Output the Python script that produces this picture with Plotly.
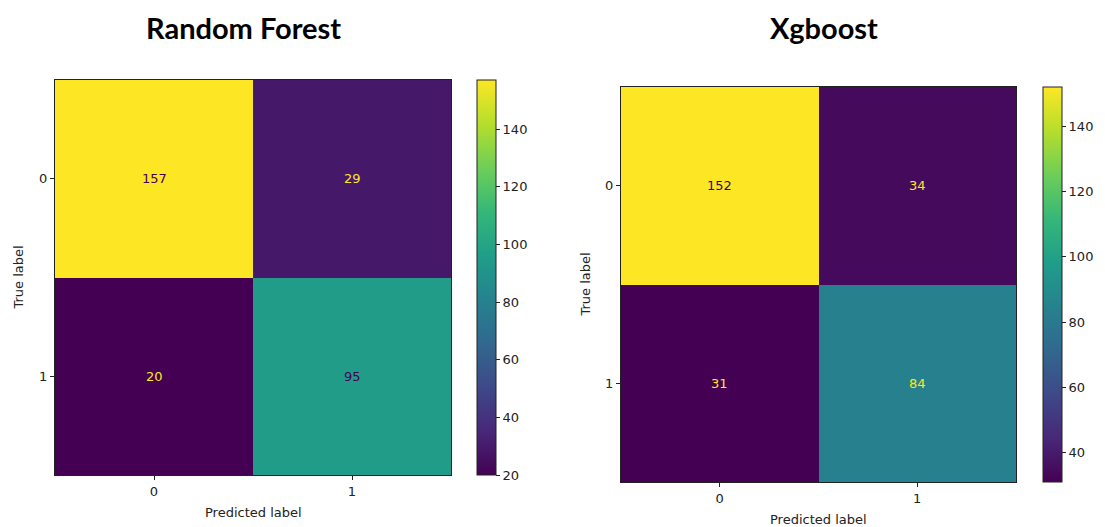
import plotly.graph_objects as go

W, H = 1105, 527
classes = [0, 1]
tick_labels = ["0", "1"]
rf_matrix = [[157, 29], [20, 95]]
xgb_matrix = [[152, 34], [31, 84]]
titles = ["Random Forest", "Xgboost"]

VIR_MIN = "#440154"
VIR_MAX = "#fde725"

def px(x):
    return x / W

def py(y):
    return 1 - y / H

fig = go.Figure()

panels = [
    dict(z=rf_matrix, xd=(55, 451), yd=(80, 475), cb=(477, 496), title_x=243, ylab_x=18, ax=""),
    dict(z=xgb_matrix, xd=(621, 1016), yd=(87, 482), cb=(1043, 1062), title_x=824, ylab_x=585, ax="2"),
]

annotations = []
for i, p in enumerate(panels):
    z = p["z"]
    flat = [v for row in z for v in row]
    zmin, zmax = min(flat), max(flat)
    thresh = (zmin + zmax) / 2
    cb_len = (p["yd"][1] - p["yd"][0]) / H
    fig.add_trace(go.Heatmap(
        z=z, x=classes, y=classes, colorscale="Viridis", zmin=zmin, zmax=zmax,
        xaxis="x" + p["ax"], yaxis="y" + p["ax"],
        hoverinfo="skip",
        colorbar=dict(
            x=px(p["cb"][0]), xanchor="left", xpad=0, ypad=0,
            y=py(p["yd"][1]), yanchor="bottom", len=cb_len, lenmode="fraction",
            thickness=p["cb"][1] - p["cb"][0], thicknessmode="pixels",
            outlinewidth=1, outlinecolor="#222",
            ticks="outside", ticklen=4, tickcolor="#222", tickwidth=1,
            tick0=20, dtick=20,
            tickfont=dict(family="DejaVu Sans", size=13, color="#222"),
        ),
    ))
    for r in range(2):
        for c in range(2):
            v = z[r][c]
            annotations.append(dict(
                x=classes[c], y=classes[r], xref="x" + p["ax"], yref="y" + p["ax"],
                text=str(v), showarrow=False,
                font=dict(family="DejaVu Sans", size=13, color=VIR_MIN if v > thresh else VIR_MAX),
            ))
    annotations.append(dict(
        x=px(p["title_x"]), y=py(27), xref="paper", yref="paper", text="<b>%s</b>" % titles[i],
        showarrow=False, xanchor="center", yanchor="middle",
        font=dict(family="Lato", size=29, color="black"),
    ))
    annotations.append(dict(
        x=px((p["xd"][0] + p["xd"][1]) / 2), y=py(p["yd"][1] + 37), xref="paper", yref="paper",
        text="Predicted label", showarrow=False, xanchor="center", yanchor="middle",
        font=dict(family="DejaVu Sans", size=13, color="#222"),
    ))
    annotations.append(dict(
        x=px(p["ylab_x"]), y=py((p["yd"][0] + p["yd"][1]) / 2), xref="paper", yref="paper",
        text="True label", showarrow=False, xanchor="center", yanchor="middle", textangle=-90,
        font=dict(family="DejaVu Sans", size=13, color="#222"),
    ))

axis_common = dict(
    showline=True, linecolor="#222", linewidth=1, mirror=True,
    ticks="outside", ticklen=4, tickcolor="#222", showgrid=False, zeroline=False,
    tickvals=classes, ticktext=tick_labels,
    tickfont=dict(family="DejaVu Sans", size=13, color="#222"),
)

layout = dict(
    width=W, height=H, margin=dict(l=0, r=0, t=0, b=0),
    paper_bgcolor="white", plot_bgcolor="white",
    annotations=annotations, showlegend=False,
)
for p in panels:
    ax = p["ax"]
    layout["xaxis" + ax] = dict(axis_common, domain=[px(p["xd"][0]), px(p["xd"][1])],
                                 range=[-0.5, 1.5], anchor="y" + ax)
    layout["yaxis" + ax] = dict(axis_common, domain=[py(p["yd"][1]), py(p["yd"][0])],
                                 range=[1.5, -0.5], anchor="x" + ax)
fig.update_layout(**layout)
fig.write_html("out.html", config={"displayModeBar": False},
               post_script="document.body.style.margin='0';document.body.style.overflow='hidden';")
